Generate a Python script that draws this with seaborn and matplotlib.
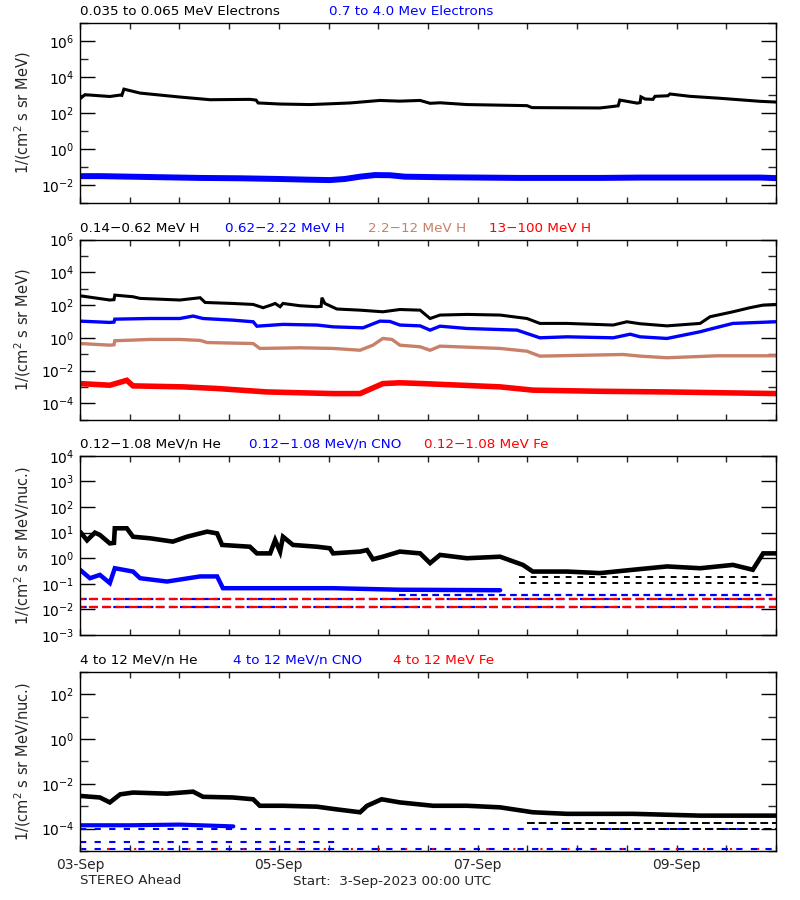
import numpy as np
import pandas as pd
import matplotlib
matplotlib.use("Agg")
import matplotlib.pyplot as plt
import matplotlib.dates as mdates
import matplotlib.ticker as mticker
import seaborn as sns

START = pd.Timestamp("2023-09-03 00:00")
SPAN_HOURS = 168

# ---------------- Panel 1: electrons (log10 flux) ----------------
elec_low_hours = [0, 1.2, 7.2, 9.7, 10.1, 10.6, 14.5, 24.1, 29.0, 31.4, 41.0, 42.5, 43.0, 48.3,
                  55.5, 61.1, 65.2, 72.4, 77.2, 82.1, 84.5, 86.9, 93.4, 107.9, 109.1, 125.5,
                  127.4, 129.9, 130.3, 134.5, 135.2, 135.4, 136.4, 138.3, 138.8, 141.9, 142.4,
                  147.2, 154.5, 164.2, 168]
elec_low_log = [2.79, 3.02, 2.92, 3.00, 2.98, 3.33, 3.11, 2.89, 2.79, 2.74, 2.76, 2.72, 2.56, 2.50,
                2.47, 2.52, 2.56, 2.70, 2.66, 2.70, 2.54, 2.57, 2.47, 2.41, 2.30, 2.28,
                2.33, 2.40, 2.72, 2.55, 2.58, 2.90, 2.78, 2.76, 2.93, 2.96, 3.06,
                2.93, 2.82, 2.65, 2.61]
elec_high_hours = [0, 4.8, 12.1, 19.3, 29.0, 38.6, 48.3, 55.5, 60.3, 63.9, 67.6, 71.2, 74.8, 78.4,
                   86.9, 96.6, 106.2, 115.9, 125.5, 135.2, 144.8, 154.5, 164.2, 168]
elec_high_log = [-1.52, -1.52, -1.55, -1.58, -1.62, -1.64, -1.68, -1.72, -1.74, -1.68, -1.55, -1.46,
                 -1.47, -1.55, -1.58, -1.60, -1.62, -1.62, -1.62, -1.60, -1.60, -1.60, -1.60, -1.63]

# ---------------- Panel 2: protons ----------------
h1_hours = [0, 7.2, 8.2, 8.4, 12.8, 14.5, 24.1, 29.0, 30.2, 36.9, 41.8, 44.2, 46.3, 47.1, 48.3, 49.0,
            53.1, 57.2, 58.2, 58.4, 59.1, 62.0, 67.6, 73.1, 77.2, 82.1, 84.5, 86.9, 93.4, 101.4,
            107.9, 111.0, 117.6, 128.7, 132.0, 135.2, 141.7, 149.7, 152.1, 157.6, 161.7, 164.9, 168]
h1_log = [2.57, 2.31, 2.33, 2.61, 2.51, 2.41, 2.31, 2.45, 2.16, 2.10, 2.04, 1.84, 2.02, 2.10, 1.90, 2.10,
          1.96, 1.90, 1.92, 2.45, 2.10, 1.76, 1.69, 1.59, 1.73, 1.69, 1.18, 1.39, 1.43, 1.39,
          1.18, 0.88, 0.88, 0.78, 0.98, 0.86, 0.73, 0.88, 1.29, 1.59, 1.84, 2.00, 2.04]
h2_hours = [0, 7.2, 8.2, 8.4, 16.9, 24.1, 27.3, 29.7, 36.9, 41.8, 42.7, 49.0, 57.2, 61.1, 68.3, 72.4,
            74.8, 77.2, 82.1, 84.5, 86.9, 93.4, 105.5, 111.0, 117.6, 128.7, 132.8, 135.2, 141.7,
            149.7, 152.1, 157.6, 168]
h2_log = [1.02, 0.94, 0.96, 1.14, 1.18, 1.18, 1.33, 1.18, 1.08, 0.98, 0.71, 0.82, 0.78, 0.67, 0.61, 1.02,
          1.00, 0.78, 0.73, 0.47, 0.71, 0.57, 0.47, 0.00, 0.06, 0.00, 0.22, 0.06, -0.04,
          0.37, 0.53, 0.88, 0.98]
h3_hours = [0, 7.2, 8.2, 8.4, 16.9, 24.1, 29.0, 30.7, 41.8, 43.4, 53.1, 61.1, 67.6, 70.7, 73.1, 75.3,
            77.2, 82.1, 84.5, 86.9, 101.4, 107.9, 111.0, 131.1, 135.2, 141.7, 153.8, 168]
h3_log = [-0.35, -0.45, -0.43, -0.18, -0.10, -0.10, -0.16, -0.29, -0.35, -0.65, -0.61, -0.65, -0.76,
          -0.45, -0.04, -0.10, -0.45, -0.55, -0.76, -0.51, -0.65, -0.82, -1.12, -1.02, -1.12,
          -1.22, -1.10, -1.10]
h4_hours = [0, 7.2, 11.3, 12.8, 24.9, 33.1, 45.1, 61.1, 67.6, 73.1, 77.2, 82.8, 101.4, 109.3, 125.5,
            141.7, 168]
h4_log = [-2.80, -2.90, -2.60, -2.94, -3.00, -3.10, -3.31, -3.41, -3.41, -2.80, -2.75, -2.80, -3.00,
          -3.20, -3.27, -3.31, -3.41]

# ---------------- Panel 3: 0.12-1.08 MeV/n ions ----------------
he_lo_hours = [0, 1.7, 3.6, 4.8, 7.2, 8.2, 8.4, 11.3, 12.8, 16.9, 22.4, 25.8, 30.7, 33.1, 34.3, 41.0,
               42.7, 45.9, 47.1, 48.3, 49.0, 51.4, 57.2, 60.3, 61.1, 67.6, 69.3, 70.7, 73.1, 77.2,
               82.1, 84.5, 86.9, 93.4, 101.4, 106.9, 109.3, 117.6, 125.5, 133.5, 141.7, 149.7,
               157.6, 162.4, 164.9, 168]
he_lo_log = [1.04, 0.70, 1.00, 0.91, 0.58, 0.60, 1.17, 1.17, 0.84, 0.78, 0.65, 0.84, 1.04, 0.97, 0.52,
             0.45, 0.19, 0.19, 0.71, 0.26, 0.84, 0.52, 0.45, 0.39, 0.19, 0.26, 0.32, -0.04, 0.06,
             0.26, 0.19, -0.19, 0.13, 0.00, 0.06, -0.26, -0.52, -0.52, -0.58, -0.45, -0.32,
             -0.39, -0.26, -0.45, 0.19, 0.19]
he_lo_floor_levels = [0.18, 0.107]
he_lo_floor_span = [106.0, 165.0]
cno_lo_hours = [0, 2.4, 4.8, 7.2, 8.4, 12.8, 14.5, 21.0, 29.0, 33.1, 34.5, 45.1, 61.1, 77.2, 101.4]
cno_lo_log = [-0.45, -0.78, -0.65, -0.97, -0.39, -0.52, -0.78, -0.91, -0.71, -0.71, -1.17, -1.17,
              -1.17, -1.23, -1.25]
cno_lo_levels = [0.037, 0.025, 0.012]
cno_lo_level_start = [77.0, 0.0, 0.0]
fe_lo_levels = [0.025, 0.012]

# ---------------- Panel 4: 4-12 MeV/n ions ----------------
he_hi_hours = [0, 4.8, 7.2, 9.7, 12.8, 21.0, 27.3, 29.7, 36.9, 41.8, 43.4, 49.0, 57.2, 61.1, 67.6,
               69.3, 72.8, 77.2, 85.2, 93.4, 101.4, 109.3, 117.6, 133.5, 149.7, 168]
he_hi_log = [-2.54, -2.61, -2.83, -2.47, -2.39, -2.44, -2.35, -2.58, -2.61, -2.69, -2.98, -2.98, -3.02,
             -3.12, -3.27, -2.98, -2.69, -2.83, -2.98, -2.98, -3.05, -3.27, -3.34, -3.34, -3.42, -3.42]
he_hi_floor_levels = [1.8e-4, 1.0e-4]
he_hi_floor_start = [108.0, 117.0]
cno_hi_hours = [0, 12.0, 24.0, 37.0]
cno_hi_log = [-3.85, -3.85, -3.82, -3.90]
cno_hi_levels = [1.0e-4, 2.6e-5, 1.25e-5]
cno_hi_level_end = [168.0, 62.0, 168.0]
fe_hi_levels = [1.25e-5]

# ---------------- styling ----------------
sns.set_style("ticks")
plt.rcParams["font.family"] = ["DejaVu Sans"]
plt.rcParams["axes.linewidth"] = 1.0
plt.rcParams["mathtext.default"] = "regular"

BLACK = "#000000"
BLUE = "#0000FF"
BROWN = "#C8806A"
RED = "#FF0000"


def to_time(hours):
    return START + pd.to_timedelta(np.asarray(hours, dtype=float), unit="h")


def draw(ax, hours, logs, color, lw):
    df = pd.DataFrame({"time": to_time(hours), "flux": 10.0 ** np.asarray(logs, dtype=float)})
    sns.lineplot(data=df, x="time", y="flux", ax=ax, color=color, linewidth=lw,
                 estimator=None, sort=False, legend=False, solid_joinstyle="miter")


def draw_level(ax, level, h0, h1, color, lw, style):
    df = pd.DataFrame({"time": to_time([h0, h1]), "flux": [level, level]})
    sns.lineplot(data=df, x="time", y="flux", ax=ax, color=color, linewidth=lw,
                 estimator=None, sort=False, legend=False, linestyle=style)


fig = plt.figure(figsize=(8, 9), dpi=100)
rects = [[0.1, 0.7748, 0.87, 0.1993],
         [0.1, 0.5338, 0.87, 0.1999],
         [0.1, 0.2944, 0.87, 0.1991],
         [0.1, 0.0544, 0.87, 0.1992]]
axes = [fig.add_axes(r) for r in rects]
ax1, ax2, ax3, ax4 = axes
for ax in axes:
    ax.set_yscale("log")

# Panel 1
draw(ax1, elec_high_hours, elec_high_log, BLUE, 4.3)
draw(ax1, elec_low_hours, elec_low_log, BLACK, 2.2)

# Panel 2
draw(ax2, h4_hours, h4_log, RED, 4.0)
draw(ax2, h3_hours, h3_log, BROWN, 2.4)
draw(ax2, h2_hours, h2_log, BLUE, 2.4)
draw(ax2, h1_hours, h1_log, BLACK, 2.2)

# Panel 3
for lev, h0 in zip(cno_lo_levels, cno_lo_level_start):
    draw_level(ax3, lev, h0, SPAN_HOURS, BLUE, 1.6, (0, (3, 2)))
for lev in fe_lo_levels:
    draw_level(ax3, lev, 0, SPAN_HOURS, RED, 1.6, (2, (4, 2)))
draw(ax3, cno_lo_hours, cno_lo_log, BLUE, 3.2)
for lev in he_lo_floor_levels:
    draw_level(ax3, lev, he_lo_floor_span[0], he_lo_floor_span[1], BLACK, 1.4, (0, (3, 3)))
draw(ax3, he_lo_hours, he_lo_log, BLACK, 3.3)

# Panel 4
for lev, h1 in zip(cno_hi_levels, cno_hi_level_end):
    draw_level(ax4, lev, 0, h1, BLUE, 1.5, (0, (3, 4)))
for lev in fe_hi_levels:
    draw_level(ax4, lev, 0, SPAN_HOURS, RED, 1.5, (0, (1, 12)))
draw(ax4, cno_hi_hours, cno_hi_log, BLUE, 3.0)
for lev, h0 in zip(he_hi_floor_levels, he_hi_floor_start):
    draw_level(ax4, lev, h0, SPAN_HOURS, BLACK, 1.4, (0, (4, 2)))
draw(ax4, he_hi_hours, he_hi_log, BLACK, 3.3)

# axis limits & ticks
ylims = [(1e-3, 1e7), (1e-5, 1e6), (1e-3, 1e4), (1e-5, 1e3)]
major_exp = [[-2, 0, 2, 4, 6], [-4, -2, 0, 2, 4, 6], [-3, -2, -1, 0, 1, 2, 3, 4], [-4, -2, 0, 2]]
minor_exp = [[-3, -1, 1, 3, 5, 7], [-5, -3, -1, 1, 3, 5], [], [-5, -3, -1, 1, 3]]
ylabels = ["1/(cm$^2$ s sr MeV)", "1/(cm$^2$ s sr MeV)",
           "1/(cm$^2$ s sr MeV/nuc.)", "1/(cm$^2$ s sr MeV/nuc.)"]

for i, ax in enumerate(axes):
    ax.set_ylim(*ylims[i])
    ax.set_xlim(START, START + pd.Timedelta(hours=SPAN_HOURS))
    ax.yaxis.set_major_locator(mticker.FixedLocator([10.0 ** e for e in major_exp[i]]))
    ax.yaxis.set_minor_locator(mticker.FixedLocator([10.0 ** e for e in minor_exp[i]]))
    ax.yaxis.set_major_formatter(mticker.LogFormatterMathtext())
    ax.yaxis.set_minor_formatter(mticker.NullFormatter())
    ax.tick_params(axis="y", which="major", direction="in", length=11, width=1,
                   left=True, right=True, labelsize=10, pad=4, colors="black")
    ax.tick_params(axis="y", which="minor", direction="in", length=5.5, width=1,
                   left=True, right=True)
    ax.xaxis.set_major_locator(mdates.DayLocator(bymonthday=[3, 5, 7, 9]))
    ax.xaxis.set_minor_locator(mdates.HourLocator(byhour=[0, 12]))
    ax.xaxis.set_major_formatter(mdates.DateFormatter("%d-%b"))
    ax.tick_params(axis="x", which="both", direction="in", length=4.5, width=1,
                   top=True, bottom=True, labelsize=10, pad=5)
    if i < 3:
        ax.tick_params(axis="x", which="both", labelbottom=False)
    ax.set_xlabel("")
    ax.set_ylabel(ylabels[i], fontsize=10.5)
    ax.yaxis.set_label_coords(-0.067, 0.5)
    for s in ax.spines.values():
        s.set_visible(True)
        s.set_color("black")
        s.set_linewidth(1.0)

titles = [
    [("0.035 to 0.065 MeV Electrons", 0.0, BLACK), ("0.7 to 4.0 Mev Electrons", 0.3578, BLUE)],
    [("0.14\u22120.62 MeV H", 0.0, BLACK), ("0.62\u22122.22 MeV H", 0.2083, BLUE),
     ("2.2\u221212 MeV H", 0.4138, BROWN), ("13\u2212100 MeV H", 0.5876, RED)],
    [("0.12\u22121.08 MeV/n He", 0.0, BLACK), ("0.12\u22121.08 MeV/n CNO", 0.2428, BLUE),
     ("0.12\u22121.08 MeV Fe", 0.4943, RED)],
    [("4 to 12 MeV/n He", 0.0, BLACK), ("4 to 12 MeV/n CNO", 0.2198, BLUE),
     ("4 to 12 MeV Fe", 0.4497, RED)],
]
for ax, segs in zip(axes, titles):
    for txt, fx, col in segs:
        ax.annotate(txt, xy=(fx, 1.0), xycoords="axes fraction", xytext=(0, 3.5),
                    textcoords="offset points", ha="left", va="bottom", color=col, fontsize=9.7)

fig.text(80 / 800, 1 - 881 / 900, "STEREO Ahead", ha="left", va="center", fontsize=9.7)
fig.text(293 / 800, 1 - 881 / 900, "Start:  3-Sep-2023 00:00 UTC", ha="left", va="center",
         fontsize=9.7)

fig.savefig("out.png", dpi=100, facecolor="white")
